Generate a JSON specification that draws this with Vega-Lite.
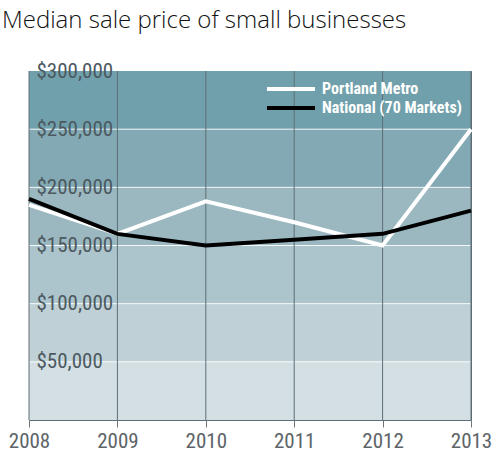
{
  "$schema": "https://vega.github.io/schema/vega-lite/v6.json",
  "width": 442,
  "height": 349,
  "autosize": "none",
  "padding": {"left": 29, "top": 71, "right": 29, "bottom": 38},
  "background": "white",
  "config": {
    "view": {"stroke": "#5f6e75", "strokeWidth": 1}
  },
  "title": {
    "text": "Median sale price of small businesses",
    "anchor": "start",
    "frame": "group",
    "dx": -27,
    "offset": 8,
    "baseline": "alphabetic",
    "font": "Open Sans",
    "fontWeight": 300,
    "fontSize": 24,
    "color": "#111111"
  },
  "datasets": {
    "bands": [
      {"lo": 0, "hi": 50000},
      {"lo": 50000, "hi": 100000},
      {"lo": 100000, "hi": 150000},
      {"lo": 150000, "hi": 200000},
      {"lo": 200000, "hi": 250000},
      {"lo": 250000, "hi": 300000}
    ],
    "years": [
      {"year": 2008}, {"year": 2009}, {"year": 2010},
      {"year": 2011}, {"year": 2012}, {"year": 2013}
    ],
    "prices": [
      {"year": 2008, "series": "Portland Metro", "price": 185000},
      {"year": 2009, "series": "Portland Metro", "price": 160000},
      {"year": 2010, "series": "Portland Metro", "price": 188000},
      {"year": 2011, "series": "Portland Metro", "price": 170000},
      {"year": 2012, "series": "Portland Metro", "price": 150000},
      {"year": 2013, "series": "Portland Metro", "price": 250000},
      {"year": 2008, "series": "National (70 Markets)", "price": 190000},
      {"year": 2009, "series": "National (70 Markets)", "price": 160000},
      {"year": 2010, "series": "National (70 Markets)", "price": 150000},
      {"year": 2011, "series": "National (70 Markets)", "price": 155000},
      {"year": 2012, "series": "National (70 Markets)", "price": 160000},
      {"year": 2013, "series": "National (70 Markets)", "price": 180000}
    ]
  },
  "layer": [
    {
      "data": {"name": "bands"},
      "mark": {"type": "rect"},
      "encoding": {
        "y": {
          "field": "lo",
          "type": "quantitative",
          "title": null,
          "scale": {"domain": [0, 300000], "nice": false},
          "axis": {
            "values": [50000, 100000, 150000, 200000, 250000, 300000],
            "format": "$,d",
            "domain": false,
            "grid": false,
            "ticks": false,
            "labelAlign": "left",
            "labelBaseline": "middle",
            "labelPadding": -7,
            "labelFont": "Liberation Sans Narrow, Roboto Condensed, DejaVu Sans Condensed, sans-serif",
            "labelFontSize": 21,
            "labelColor": "#4c5960",
            "labelFlush": false,
            "labelOverlap": false,
            "zindex": 1
          }
        },
        "y2": {"field": "hi"},
        "fill": {
          "field": "lo",
          "type": "ordinal",
          "legend": null,
          "scale": {
            "domain": [0, 50000, 100000, 150000, 200000, 250000],
            "range": ["#d3dfe3", "#bfd1d7", "#acc4cb", "#9bb8c1", "#83a9b4", "#70a0ac"]
          }
        }
      }
    },
    {
      "data": {"name": "bands"},
      "transform": [{"filter": "datum.hi < 300000"}],
      "mark": {"type": "rule", "color": "#ffffff", "strokeWidth": 1, "opacity": 0.85},
      "encoding": {
        "y": {"field": "hi", "type": "quantitative", "title": null}
      }
    },
    {
      "data": {"name": "years"},
      "mark": {"type": "rule", "color": "#5f6e75", "strokeWidth": 1},
      "encoding": {
        "x": {
          "field": "year",
          "type": "quantitative",
          "title": null,
          "scale": {"domain": [2008, 2013], "nice": false, "zero": false},
          "axis": {
            "values": [2008, 2009, 2010, 2011, 2012, 2013],
            "format": "d",
            "domain": false,
            "grid": false,
            "ticks": true,
            "tickSize": 7,
            "tickColor": "#6a767c",
            "labelFont": "Liberation Sans Narrow, Roboto Condensed, DejaVu Sans Condensed, sans-serif",
            "labelFontSize": 21,
            "labelColor": "#5d6468",
            "labelPadding": 3,
            "labelFlush": false,
            "labelOverlap": false
          }
        }
      }
    },
    {
      "data": {"name": "prices"},
      "mark": {"type": "line", "strokeWidth": 4, "strokeJoin": "miter", "strokeCap": "butt"},
      "encoding": {
        "x": {"field": "year", "type": "quantitative", "title": null},
        "y": {"field": "price", "type": "quantitative", "title": null},
        "stroke": {
          "field": "series",
          "type": "nominal",
          "scale": {
            "domain": ["Portland Metro", "National (70 Markets)"],
            "range": ["#ffffff", "#000000"]
          },
          "legend": {
            "title": null,
            "orient": "none",
            "legendX": 254,
            "legendY": 10,
            "symbolType": "M-4,0H4",
            "symbolSize": 144,
            "symbolStrokeWidth": 4,
            "labelFont": "Liberation Sans Narrow, Roboto Condensed, DejaVu Sans Condensed, sans-serif",
            "labelFontWeight": "bold",
            "labelFontSize": 16,
            "labelColor": "#ffffff",
            "labelOffset": 23,
            "rowPadding": 3
          }
        }
      }
    }
  ]
}
